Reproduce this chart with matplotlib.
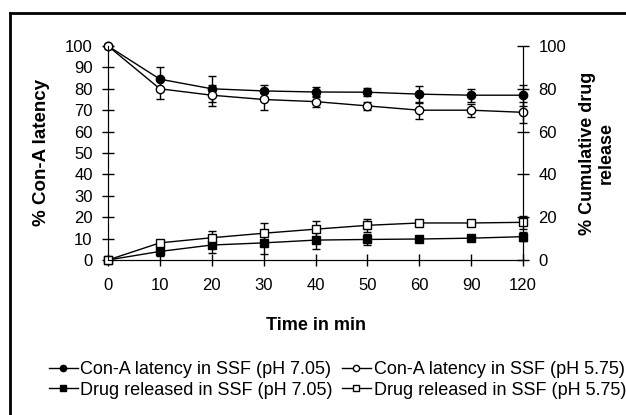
import matplotlib
matplotlib.use('Agg')
import matplotlib.pyplot as plt
from matplotlib.lines import Line2D

plt.rcParams['font.family'] = ['Liberation Sans', 'DejaVu Sans']

# data
time_labels = ['0', '10', '20', '30', '40', '50', '60', '90', '120']

cona_705 = [100, 84.5, 80, 79, 78.5, 78.4, 77.5, 77, 77]
cona_705_err = [0, 5.5, 6, 3, 2.5, 2, 4, 3, 5]
cona_575 = [100, 80, 77, 75, 74, 72, 70, 70, 69]
cona_575_err = [0, 5, 5, 5, 2.5, 2, 4, 3, 5]

drug_705 = [0, 4, 7, 8, 9.3, 9.6, 9.8, 10.2, 10.9]
drug_705_err = [0, 2, 3.5, 5, 4, 2.5, 1.5, 1, 2]
drug_575 = [0, 8, 10.4, 12.5, 14.4, 16.2, 17.3, 17.3, 17.6]
drug_575_err = [0, 1.5, 3, 5, 4, 3, 1.5, 1.5, 3]

x = list(range(len(time_labels)))

fig = plt.figure(figsize=(6.26, 4.15), dpi=100)
ax = fig.add_axes([0.1725, 0.3735, 0.663, 0.5157])

def series(y, err, marker, face):
    ax.errorbar(x, y, yerr=err, color='black', lw=1, marker=marker, ms=6,
                mfc=face, mec='black', mew=1, capsize=3, elinewidth=1,
                capthick=1, clip_on=False, zorder=3)

series(cona_705, cona_705_err, 'o', 'black')
series(cona_575, cona_575_err, 'o', 'white')
series(drug_705, drug_705_err, 's', 'black')
series(drug_575, drug_575_err, 's', 'white')

ax.set_xlim(0, 8)
ax.set_ylim(0, 100)
ax.set_yticks(range(0, 101, 10))
ax.set_xticks(x)
ax.set_xticklabels(time_labels)
ax.spines['top'].set_visible(False)
ax.tick_params(direction='inout', length=8, width=1, labelsize=12)
ax.tick_params(axis='x', pad=9)
ax.tick_params(axis='y', pad=7)
ax.set_ylabel('% Con-A latency', fontsize=13.5, fontweight='bold', labelpad=11)
ax.set_xlabel('Time in min', fontsize=13, fontweight='bold', labelpad=17)

ax2 = ax.twinx()
ax2.set_ylim(0, 100)
ax2.set_yticks(range(0, 101, 20))
ax2.spines['top'].set_visible(False)
ax2.tick_params(direction='inout', length=8, width=1, labelsize=12, pad=7)
ax2.set_ylabel('% Cumulative drug\nrelease', fontsize=13, fontweight='bold',
               labelpad=9, linespacing=1.15)

handles = [
    Line2D([], [], color='black', lw=1, marker='o', ms=4.5, mfc='black', mec='black'),
    Line2D([], [], color='black', lw=1, marker='s', ms=4.5, mfc='black', mec='black'),
    Line2D([], [], color='black', lw=1, marker='o', ms=4.5, mfc='white', mec='black'),
    Line2D([], [], color='black', lw=1, marker='s', ms=4.5, mfc='white', mec='black'),
]
labels = ['Con-A latency in SSF (pH 7.05)', 'Drug released in SSF (pH 7.05)',
          'Con-A latency in SSF (pH 5.75)', 'Drug released in SSF (pH 5.75)']
fig.legend(handles, labels, ncol=2, loc='center', bbox_to_anchor=(0.539, 0.085),
           frameon=False, fontsize=13, handlelength=1.6, handletextpad=0.15,
           columnspacing=0.5, labelspacing=0.2, borderpad=0)

# frame round the figure (left and top edges visible)
fig.add_artist(Line2D([0.016, 0.016], [0, 0.969], color='black', lw=2,
                      transform=fig.transFigure))
fig.add_artist(Line2D([0.016, 1], [0.969, 0.969], color='black', lw=2,
                      transform=fig.transFigure))

fig.savefig('out.png', dpi=100)
